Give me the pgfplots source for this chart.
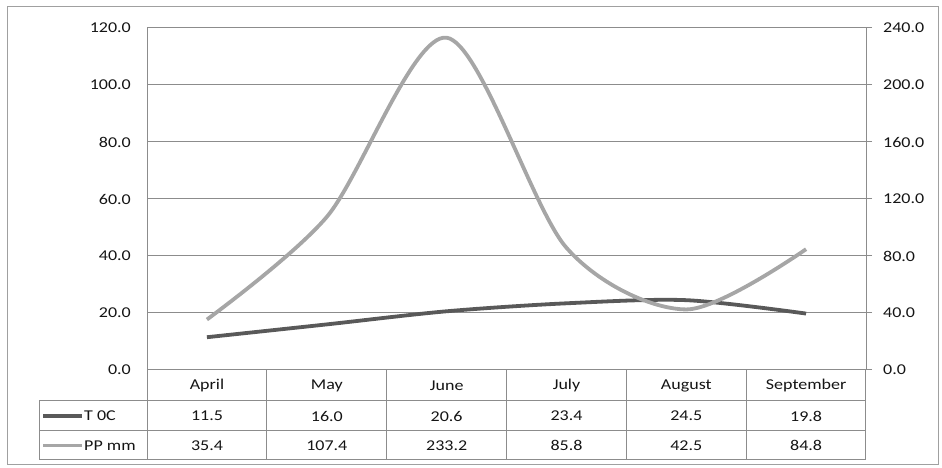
\documentclass[border=0pt]{standalone}
\usepackage{fontspec}
\setmainfont{Carlito}[FakeStretch=1.2]
\usepackage{pgfplots}
\usepackage{pgfplotstable}
\pgfplotsset{compat=1.18}
\definecolor{darkline}{HTML}{595959}
\definecolor{lightline}{HTML}{A6A6A6}
\definecolor{gridc}{HTML}{8C8C8C}
\definecolor{framec}{HTML}{A0A0A0}
\definecolor{txt}{HTML}{141414}
\pgfplotstableread{
x T PP
0 11.5 35.4
1 16.0 107.4
2 20.6 233.2
3 23.4 85.8
4 24.5 42.5
5 19.8 84.8
}\datatable
\pgfplotsset{numfmt/.style={/pgf/number format/fixed, /pgf/number format/fixed zerofill, /pgf/number format/precision=1, /pgf/number format/assume math mode=true}}
\begin{document}
\fontsize{15}{18}\selectfont
\begin{tikzpicture}[x=1pt,y=1pt]
\useasboundingbox (0,0) rectangle (942,468);
\draw[framec, line width=1pt] (7,3) rectangle (938,461);
\begin{axis}[at={(147pt,98pt)}, anchor=south west, width=719pt, height=342pt, scale only axis,
  xmin=-0.5, xmax=5.5, ymin=0, ymax=120, ytick={0,20,...,120}, xtick=\empty,
  ymajorgrids, grid style={gridc, line width=1pt},
  axis line style={gridc, line width=1pt},
  major tick length=0pt,
  tick label style={font=\fontsize{15}{18}\selectfont, color=txt},
  numfmt,
  yticklabel style={xshift=-11pt},
  clip=false]
  \addplot[darkline, line width=3.8pt, smooth, tension=0.5] table[x=x, y=T] {\datatable};
\end{axis}
\begin{axis}[at={(147pt,98pt)}, anchor=south west, width=719pt, height=342pt, scale only axis,
  xmin=-0.5, xmax=5.5, ymin=0, ymax=240, ytick={0,40,...,240},
  axis x line=none, axis y line*=right,
  axis line style={gridc, line width=1pt, -},
  tick style={gridc, line width=1pt},
  tick align=outside, major tick length=6pt,
  tick label style={font=\fontsize{15}{18}\selectfont, color=txt},
  numfmt,
  yticklabel style={xshift=6pt},
  clip=false]
  \addplot[lightline, line width=3.8pt, smooth, tension=0.5] table[x=x, y=PP] {\datatable};
\end{axis}
% data table
\begin{scope}[gridc, line width=1pt]
  \draw (39,67) -- (866,67);
  \draw (39,37) -- (866,37);
  \draw (39,8) -- (866,8);
  \draw (39,8) -- (39,67);
  \foreach \i in {0,...,6} { \draw ({147+119.83*\i},8) -- ({147+119.83*\i},98); }
\end{scope}
\begin{scope}[every node/.style={text=txt, inner sep=0pt}]
  \foreach \m [count=\i from 0] in {April,May,June,July,August,September}
    \node at ({207+119.83*\i},82.5) {\m};
  \foreach \v [count=\i from 0] in {11.5,16.0,20.6,23.4,24.5,19.8}
    \node at ({207+119.83*\i},52) {\v};
  \foreach \v [count=\i from 0] in {35.4,107.4,233.2,85.8,42.5,84.8}
    \node at ({207+119.83*\i},22.5) {\v};
  \draw[darkline, line width=3.8pt] (43,52) -- (82,52);
  \node[anchor=west] at (84,52) {T 0C};
  \draw[lightline, line width=3.8pt] (43,22.5) -- (82,22.5);
  \node[anchor=west] at (84,22.5) {PP mm};
\end{scope}
\end{tikzpicture}
\end{document}
